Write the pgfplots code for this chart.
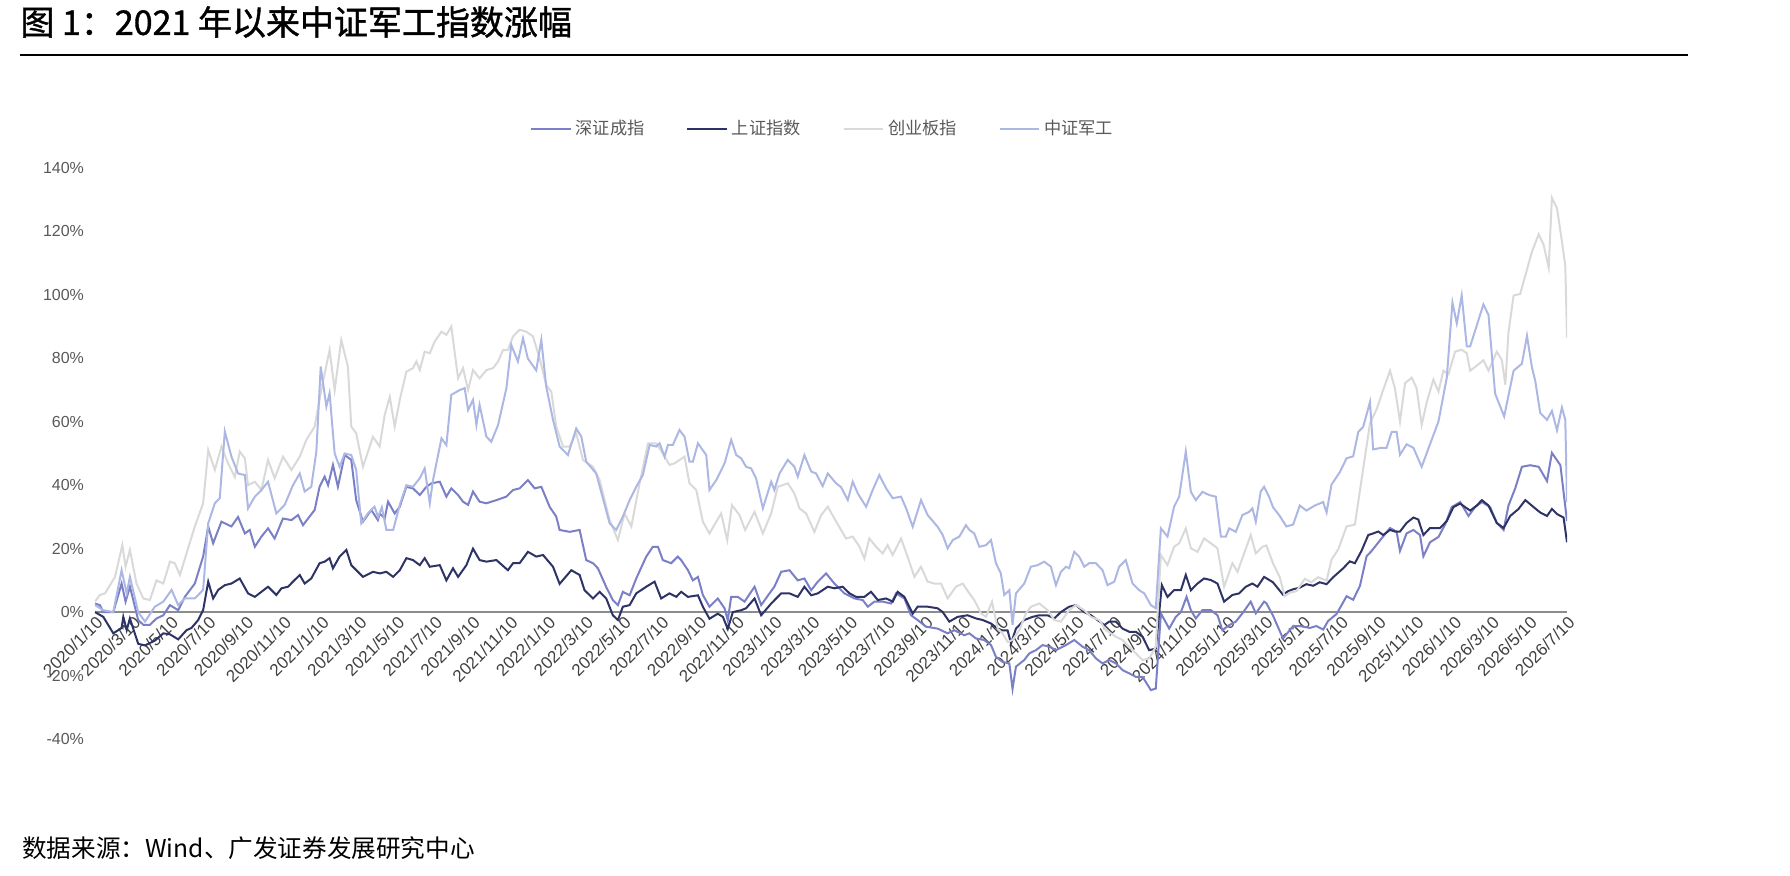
\documentclass[border=0pt]{standalone}
\usepackage{pgfplots}
\pgfplotsset{compat=1.18}
\usepackage{fontspec}
\setmainfont{Liberation Sans}
\newfontfamily\cjk{Noto Sans CJK SC}
\newfontfamily\cjkt[FakeBold=1.2]{Noto Sans CJK SC}
\definecolor{szc}{HTML}{7B80C6}
\definecolor{shc}{HTML}{2E3366}
\definecolor{cyc}{HTML}{D9D9D9}
\definecolor{jgc}{HTML}{ADB7E3}
\definecolor{lbl}{HTML}{595959}
\definecolor{xlbl}{HTML}{404040}
\begin{document}
\begin{tikzpicture}
\path (0pt,0pt) rectangle (895pt,438pt);
\node[anchor=west, inner sep=0pt, font=\cjkt\fontsize{17}{19}\selectfont] at (10pt,427pt) {图 1：2021 年以来中证军工指数涨幅};
\draw[line width=1pt] (10pt,410.5pt) -- (844pt,410.5pt);
\node[anchor=west, inner sep=0pt, font=\cjk\fontsize{12.3}{14}\selectfont] at (11pt,14pt) {数据来源：Wind、广发证券发展研究中心};
\begin{axis}[at={(47.5pt,68.5pt)}, anchor=south west,
  scale only axis, width=736pt, height=285.5pt,
  xmin=0, xmax=78, ymin=-40, ymax=140,
  axis x line=middle, axis y line=left,
  x axis line style={draw=black!45, line width=1.1pt, -},
  y axis line style={draw=none},
  xtick={0,2,...,78},
  xticklabels={2020/1/10,2020/3/10,2020/5/10,2020/7/10,2020/9/10,2020/11/10,2021/1/10,2021/3/10,2021/5/10,2021/7/10,2021/9/10,2021/11/10,2022/1/10,2022/3/10,2022/5/10,2022/7/10,2022/9/10,2022/11/10,2023/1/10,2023/3/10,2023/5/10,2023/7/10,2023/9/10,2023/11/10,2024/1/10,2024/3/10,2024/5/10,2024/7/10,2024/9/10,2024/11/10,2025/1/10,2025/3/10,2025/5/10,2025/7/10,2025/9/10,2025/11/10,2026/1/10,2026/3/10,2026/5/10,2026/7/10},
  xticklabel style={rotate=45, anchor=north east, inner sep=1pt, font=\fontsize{8.5}{9}\selectfont, text=xlbl},
  ytick={-40,-20,...,140},
  yticklabel={\pgfmathprintnumber{\tick}\%},
  yticklabel style={font=\fontsize{8}{9}\selectfont, text=lbl, xshift=-2pt},
  major tick length=0pt, tick style={draw=none},
  hide obscured x ticks=false, hide obscured y ticks=false,
  /pgf/number format/assume math mode=true,
  legend columns=4,
  legend style={at={(0.495,1.068)}, anchor=center, draw=none, fill=none,
    font=\cjk\fontsize{8.6}{10}\selectfont, text=lbl,
    /tikz/every even column/.append style={column sep=19pt},
    nodes={inner xsep=2pt}},
  legend image code/.code={\draw[#1, line width=1pt] (0pt,0pt) -- (19.7pt,0pt);},
]
\addplot[szc, line width=1pt] coordinates {
(0,2.7) (0.26,2.2) (0.44,0) (0.97,0) (1.41,9) (1.62,3.3) (1.85,8) (2.29,-2.5) (2.56,-4) (2.91,-4) (3.26,-2) (3.62,-1) (3.97,2.2) (4.41,0.6) (4.76,4.8) (5.29,9) (5.73,17.5) (6.0,27) (6.26,21.7) (6.7,28.5) (7.23,27) (7.58,30) (7.94,24.8) (8.2,25.9) (8.47,20.6) (8.82,23.8) (9.17,26.4) (9.52,23.2) (9.96,29.5) (10.41,29) (10.76,30.6) (11.02,27.4) (11.64,32.2) (11.9,39.5) (12.17,42.7) (12.35,40) (12.61,46.4) (12.87,39.5) (13.23,49.5) (13.58,48) (13.84,35.3) (14.2,28.5) (14.64,32.2) (14.99,29)
(15.09,31.1) (15.35,29.5) (15.53,34.8) (15.88,31.1) (16.15,33.2) (16.5,39.5) (16.85,39) (17.21,36.9) (17.56,39.5) (17.83,40.6) (18.27,41.1) (18.62,36.4) (18.88,39) (19.24,36.9) (19.5,34.8) (19.77,33.8) (20.03,38) (20.38,34.8) (20.74,34.3) (21.27,35.3) (21.8,36.4) (22.15,38.5) (22.5,39) (22.94,41.6) (23.3,39) (23.65,39.5) (24.09,33.2) (24.44,30.1) (24.62,25.9) (25.15,25.3) (25.68,25.9) (26.03,16.4) (26.39,15.4) (26.65,13.8) (27.09,7.9) (27.44,3.8) (27.71,2.2) (27.97,6.4) (28.33,5.3) (28.68,10.6) (29.21,17.5) (29.56,20.6) (29.83,20.6) (30.09,16.4) (30.53,15.4) (30.88,17.5)
(31.06,16.4) (31.42,13.2) (31.68,10) (31.95,11.1) (32.21,5.4) (32.56,1.7) (33.0,4.3) (33.36,1.2) (33.53,-2.6) (33.71,4.8) (34.06,4.8) (34.42,3.3) (34.95,8) (35.3,2.2) (35.74,5.9) (36.0,8) (36.36,12.7) (36.8,13.2) (37.24,10) (37.59,10.6) (37.95,6.9) (38.3,9.6) (38.74,12.2) (39.18,9) (39.71,5.9) (40.24,4.3) (40.68,3.8) (40.95,1.7) (41.3,3.3) (41.74,3.3) (42.18,2.7) (42.45,5.9) (42.89,4.3) (43.24,-1) (43.59,-2.5) (44.03,-4.6) (44.65,-5.2) (45.18,-6.7) (45.53,-5.7) (46.06,-7.3)
(46.33,-6.7) (46.68,-8.3) (47.12,-8.8) (47.48,-10.4) (47.74,-14.1) (48.09,-15.7) (48.45,-16.2) (48.62,-24.2) (48.8,-17.2) (49.24,-15.1) (49.51,-13) (49.86,-12) (50.21,-10.4) (50.57,-10.9) (50.92,-12) (51.45,-10.4) (51.89,-8.8) (52.33,-10.9) (52.68,-12) (53.04,-14.6) (53.39,-16.2) (53.74,-15.1) (54.1,-16.2) (54.45,-18.3) (54.8,-19.3) (55.15,-20.4) (55.51,-20.4) (55.95,-24.6) (56.21,-24.1) (56.48,-0.4) (56.92,-5.2) (57.27,-1.5) (57.54,0) (57.84,4.8) (58.07,0.6) (58.33,-2) (58.68,0.6) (59.13,0.6) (59.48,-1) (59.74,-5.7) (60.1,-4.1) (60.45,-3) (60.8,-0.4) (61.24,3.3) (61.51,-0.4) (61.95,3.3)
(62.07,2.8) (62.42,-1.1) (62.95,-8.3) (63.49,-4.4) (63.84,-4.4) (64.37,-5) (64.72,-4.4) (65.08,-5.5) (65.34,-2.8) (65.79,-0.6) (66.32,5) (66.67,3.9) (67.03,8.3) (67.38,17.6) (67.65,19.3) (68.09,22.6) (68.62,26.5) (68.97,25.4) (69.15,19.3) (69.5,24.8) (69.86,25.9) (70.21,24.3) (70.39,17.6) (70.74,22) (71.19,23.7) (71.54,27.6) (71.89,33.1) (72.34,34.7) (72.78,30.3) (73.13,33.1) (73.49,34.7) (73.93,33.1) (74.28,28.1) (74.64,25.9) (74.9,33.6) (75.26,39.1) (75.61,45.8) (76.05,46.3) (76.5,45.8) (76.94,41.3) (77.2,50.2) (77.65,46.3) (78,28.7)
};
\addlegendentry{深证成指}
\addplot[shc, line width=1pt] coordinates {
(0,0) (0.44,-1.5) (0.97,-6.7) (1.41,-5) (1.5,-1.5) (1.68,-5.7) (1.85,-2) (2.29,-10) (2.65,-10.5) (3.17,-9) (3.62,-6.7) (3.97,-7) (4.41,-8.6) (4.85,-5.7) (5.11,-5) (5.47,-2.5) (5.73,0.6) (6.0,9.6) (6.26,4.3) (6.53,7) (6.88,8.5) (7.23,9) (7.67,10.6) (8.11,5.9) (8.47,4.8) (8.82,6.4) (9.17,8) (9.61,5.4) (9.88,7.5) (10.23,8) (10.49,9.6) (10.85,11.7) (11.11,9) (11.46,10.6) (11.9,15.4) (12.17,15.9) (12.43,17) (12.61,13.8) (12.96,17.5) (13.32,19.6) (13.58,14.8) (14.2,11.1) (14.73,12.7)
(15.09,12.2) (15.44,12.7) (15.8,11.1) (16.15,13.2) (16.5,17) (16.85,16.4) (17.21,14.8) (17.47,17) (17.74,14.3) (18.27,14.8) (18.62,10) (18.97,13.8) (19.24,11.1) (19.68,14.8) (20.03,20) (20.38,16.4) (20.74,15.9) (21.27,16.4) (21.88,13.2) (22.15,15.4) (22.5,15.4) (22.94,19) (23.38,17.5) (23.74,18) (24.27,14.3) (24.62,8.9) (25.24,13.2) (25.68,11.7) (25.94,6.9) (26.39,4.3) (26.74,6.4) (27.09,4.3) (27.44,-1) (27.71,-2.5) (27.97,1.7) (28.33,2.2) (28.68,5.9) (29.21,8) (29.65,9.6) (30.0,4.3) (30.44,5.9) (30.8,4.8)
(31.06,6.4) (31.42,4.8) (31.95,5.3) (32.21,1.7) (32.56,-2.1) (33.0,-0.5) (33.27,-1.5) (33.53,-5.3) (33.8,0) (34.24,0.6) (34.5,1.2) (34.95,4.3) (35.3,-1) (35.83,2.7) (36.36,5.9) (36.8,5.9) (37.24,4.8) (37.59,8) (37.95,5.3) (38.3,5.9) (38.83,8) (39.18,7.5) (39.62,8) (39.98,5.9) (40.33,4.8) (40.77,4.8) (41.12,6.4) (41.48,3.8) (41.92,4.3) (42.27,3.3) (42.53,6.4) (42.89,4.8) (43.33,-0.5) (43.59,1.7) (44.12,1.7) (44.65,1.2) (44.92,0) (45.27,-3) (45.71,-1.5) (46.24,-1)
(46.68,-2) (47.04,-2.5) (47.48,-3.6) (47.83,-5.2) (48.09,-5.8) (48.36,-5.8) (48.54,-9.9) (48.8,-5.2) (49.24,-2.5) (49.68,-1.5) (50.04,-1) (50.48,-1) (50.83,-2) (51.18,0) (51.62,1.7) (51.98,2.2) (52.42,0) (52.77,-1) (53.12,-2.5) (53.48,-4.1) (53.74,-3) (54.1,-3) (54.45,-5.2) (54.8,-6.2) (55.15,-6.2) (55.51,-7.8) (55.86,-12) (56.21,-11.5) (56.53,8.5) (56.83,4.8) (57.18,6.9) (57.54,6.9) (57.8,11.7) (58.07,6.9) (58.42,9) (58.77,10.6) (59.13,10.1) (59.48,9) (59.83,3.3) (60.27,5.4) (60.63,5.9) (60.98,8) (61.33,9) (61.6,8) (61.95,11.1)
(62.42,9.4) (62.95,5.5) (63.22,6.6) (63.49,7.2) (63.84,7.7) (64.19,8.8) (64.55,8.3) (64.9,9.4) (65.26,8.8) (65.61,11) (66.14,13.8) (66.49,16) (66.76,15.4) (67.11,19.3) (67.47,24.3) (67.73,24.8) (68.0,25.4) (68.26,24.3) (68.62,25.9) (68.88,25.4) (69.15,25.4) (69.5,28.1) (69.86,29.8) (70.12,29.2) (70.39,24.3) (70.74,26.5) (71.27,26.5) (71.63,28.7) (71.98,33.1) (72.34,34.2) (72.6,33.1) (72.87,32) (73.22,33.6) (73.49,35.3) (73.84,33.6) (74.28,28.1) (74.64,26.5) (74.99,30.3) (75.43,32.5) (75.79,35.3) (76.23,33.1) (76.58,31.4) (76.94,30.3) (77.2,32.5) (77.47,30.9) (77.82,29.8) (78,22)
};
\addlegendentry{上证指数}
\addplot[cyc, line width=1pt] coordinates {
(0,3.3) (0.26,5.4) (0.53,5.9) (1.06,11.1) (1.45,21.1) (1.62,14.3) (1.85,19.6) (2.2,9) (2.56,4.3) (2.91,3.8) (3.26,10) (3.62,9) (3.97,15.9) (4.23,15.4) (4.5,11.7) (4.85,18.5) (5.29,27) (5.73,34.3) (6.0,51.1) (6.35,44.8) (6.7,52.2) (7.05,46.9) (7.41,42.6) (7.67,50.6) (7.94,48.5) (8.11,40) (8.47,41.1) (8.82,38.5) (9.17,48) (9.52,42.2) (9.96,49) (10.41,44.8) (10.85,49) (11.2,54.3) (11.64,58.5) (11.99,70) (12.43,82.6) (12.7,70) (13.05,85.8) (13.4,77.4) (13.58,58.5) (13.84,56.4) (14.2,45.8) (14.73,55.3) (15.08,52.2)
(15.35,62.1) (15.62,67.9) (15.88,58.5) (16.15,66.9) (16.5,75.8) (16.85,76.9) (17.03,79) (17.21,76.3) (17.47,82.1) (17.74,81.6) (18.0,85.3) (18.36,88.4) (18.62,87.4) (18.88,90) (19.24,73.7) (19.5,76.9) (19.77,70) (20.03,76.3) (20.38,73.7) (20.74,76.3) (21.09,76.9) (21.36,79) (21.62,82.6) (21.88,82.6) (22.15,86.9) (22.5,89) (22.86,88.4) (23.21,86.9) (23.56,80) (23.91,71.6) (24.18,69.5) (24.44,58.5) (24.8,52.2) (25.15,52.2) (25.5,56.4) (25.86,47.9) (26.39,45.8) (26.74,41.6) (27.27,29) (27.71,22.7) (28.06,31.1) (28.42,27) (28.86,40.6) (29.3,53.2) (29.74,53.2) (30.09,50) (30.44,46.4) (30.71,46.9)
(31.24,49) (31.5,40.6) (31.86,38.5) (32.21,28.5) (32.56,24.8) (32.92,28.5) (33.18,31.1) (33.5,22.7) (33.75,33.7) (34.15,30.6) (34.45,25.9) (34.95,31.6) (35.39,24.8) (35.83,31.1) (36.18,39.5) (36.71,40.6) (37.06,37.4) (37.33,32.7) (37.68,31.1) (38.12,25.3) (38.48,30.6) (38.83,33.2) (39.18,29.5) (39.53,25.9) (39.8,23.2) (40.15,23.8) (40.51,20.6) (40.77,16.9) (41.03,23.2) (41.39,20.6) (41.74,18.5) (42.0,21.1) (42.27,18) (42.71,23.2) (43.06,17.5) (43.42,11.1) (43.77,14.3) (44.12,9.6) (44.48,9) (44.83,9) (45.18,4.3) (45.62,8) (45.98,9)
(46.33,5.9) (46.59,3.8) (46.95,-0.4) (47.21,-1.5) (47.53,3.3) (47.83,-5.2) (48.09,-6.7) (48.36,-9.4) (48.62,-8.8) (48.98,-5.7) (49.33,-0.4) (49.6,1.7) (50.04,2.7) (50.48,0.6) (50.83,-2.5) (51.18,-3) (51.62,0.6) (51.98,2.2) (52.42,0.6) (52.77,-1.5) (53.21,-2.5) (53.57,-5.7) (54.1,-7.8) (54.45,-8.8) (54.8,-10.9) (55.15,-13) (55.51,-15.1) (55.86,-14.6) (56.21,-10.9) (56.48,18) (56.83,14.8) (57.18,20.6) (57.45,21.7) (57.8,26.4) (58.07,20.1) (58.42,19) (58.77,23.2) (59.13,21.7) (59.48,20.1) (59.83,8) (60.27,15.4) (60.54,12.7) (60.89,18.5) (61.24,24.3) (61.51,18.5) (61.86,20.6)
(62.07,21) (62.42,15.4) (62.78,11) (63.04,5) (63.31,6.1) (63.66,6.6) (64.11,10.5) (64.46,9.4) (64.81,11) (65.26,9.9) (65.52,16.5) (65.88,19.8) (66.32,27) (66.76,27.6) (67.2,45.2) (67.56,59.5) (67.91,63.9) (68.26,70) (68.62,76.1) (68.88,70.6) (69.15,60.1) (69.42,72.2) (69.77,73.9) (70.03,70.6) (70.3,59) (70.57,66.2) (70.92,73.3) (71.19,69.5) (71.45,76.1) (71.72,75) (72.07,82.1) (72.42,82.7) (72.69,81.6) (72.87,76.1) (73.22,77.7) (73.57,79.4) (73.84,76.1) (74.28,82.1) (74.55,79.4) (74.73,71.7) (74.9,88.2) (75.17,99.8) (75.52,100.3) (75.88,108) (76.14,113.6) (76.5,119.1) (76.76,115.8) (77.03,108.6) (77.2,130.6) (77.47,127.3) (77.73,116.9) (77.91,109.1) (78,86.5)
};
\addlegendentry{创业板指}
\addplot[jgc, line width=1pt] coordinates {
(0,2.2) (0.44,0.6) (0.97,0) (1.41,13.2) (1.68,5.9) (1.85,11.1) (2.29,0) (2.65,-3) (3.17,1.7) (3.62,3.3) (4.06,7) (4.41,2.2) (4.76,4.3) (5.29,4.3) (5.73,7) (6.0,28) (6.35,34.3) (6.61,35.9) (6.88,56.9) (7.23,49) (7.58,43.7) (7.94,43.2) (8.11,32.7) (8.47,36.4) (8.82,38.5) (9.17,41.1) (9.61,31.1) (10.05,33.8) (10.49,40) (10.85,43.7) (11.11,38) (11.46,39.5) (11.73,50.6) (11.96,77.4) (12.26,64.8) (12.43,69) (12.7,50) (12.96,45.8) (13.23,50) (13.58,49.5) (13.84,44.8) (14.11,28) (14.46,31.1) (14.81,33.2) (15.0,30) (15.2,33)
(15.44,25.9) (15.8,25.9) (16.15,33.8) (16.5,40) (16.85,39.5) (17.21,42.2) (17.47,45.3) (17.74,34.3) (17.91,41.6) (18.36,54.8) (18.62,52.6) (18.88,68.5) (19.33,70) (19.59,70.6) (19.77,63.7) (20.03,66.9) (20.21,59) (20.38,65.3) (20.74,55.3) (21.0,53.7) (21.36,59) (21.8,70.6) (22.06,84.2) (22.41,79) (22.68,86.3) (22.94,79.9) (23.38,76.2) (23.65,85.8) (23.91,71.1) (24.27,60.6) (24.62,52.2) (25.06,49.5) (25.5,57.9) (25.77,55.3) (26.03,47.4) (26.56,43.7) (27.27,28) (27.62,25.9) (27.97,30.1) (28.33,35.3) (28.68,39.5) (29.03,43.2) (29.39,52.7) (29.74,52.2) (29.92,53.2) (30.18,49) (30.36,52.7) (30.62,52.7) (30.97,57.4)
(31.24,55.3) (31.5,47.4) (31.68,47.4) (31.95,53.2) (32.39,49.5) (32.56,38.5) (32.92,41.6) (33.36,46.9) (33.71,54.3) (33.98,49.5) (34.24,48.5) (34.5,45.8) (34.77,45.3) (35.03,42.2) (35.39,32.7) (35.83,41.1) (36.0,38.5) (36.27,43.7) (36.71,48) (37.06,45.8) (37.24,42.7) (37.59,49.5) (37.95,44.3) (38.21,43.7) (38.56,39.7) (38.83,43.7) (39.27,40.6) (39.53,39.4) (39.89,35.3) (40.15,41.1) (40.42,37.4) (40.86,33.2) (41.21,38.5) (41.56,43.2) (41.92,39) (42.27,35.9) (42.71,36.4) (42.98,32.7) (43.33,26.9) (43.77,35.3) (44.12,30.6) (44.65,26.9) (44.92,24.3) (45.18,20.1) (45.45,22.7) (45.8,23.8) (46.15,27.4)
(46.33,25.9) (46.59,24.8) (46.86,20.6) (47.21,21.1) (47.48,22.7) (47.74,15.4) (48.0,12.2) (48.18,5.4) (48.45,6.9) (48.62,-4.1) (48.8,5.9) (49.24,9) (49.59,14.3) (49.95,14.8) (50.3,15.9) (50.65,14.3) (50.92,8.5) (51.18,12.7) (51.45,14.3) (51.62,13.8) (51.89,19) (52.15,17.5) (52.42,14.3) (52.68,15.4) (53.04,15.4) (53.39,13.2) (53.65,8.5) (54.01,9.6) (54.27,14.3) (54.62,16.4) (54.98,9) (55.33,6.9) (55.6,5.9) (55.95,2.2) (56.21,1.2) (56.48,26.4) (56.83,23.8) (57.18,33.2) (57.45,36.4) (57.8,50.6) (58.07,37.9) (58.33,35.3) (58.68,37.9) (59.04,36.9) (59.39,36.4) (59.66,23.8) (59.92,23.8) (60.1,26.4) (60.45,25.3) (60.8,30.6) (61.16,31.6) (61.33,32.7) (61.51,28.5) (61.77,38) (61.95,39.5) (62.21,36.4)
(62.42,33.1) (62.78,30.3) (63.13,27) (63.49,27.6) (63.84,33.6) (64.19,32) (64.64,33.6) (65.08,34.7) (65.26,31.4) (65.52,40.2) (65.96,44.1) (66.32,48.5) (66.67,49.1) (66.94,56.8) (67.2,58.4) (67.56,66.2) (67.73,51.3) (68.18,51.8) (68.44,51.8) (68.71,56.8) (68.97,56.8) (69.15,49.6) (69.5,52.9) (69.86,51.8) (70.3,45.8) (70.74,52.9) (71.19,60.1) (71.63,73.9) (71.93,97.6) (72.16,91) (72.42,99.8) (72.69,83.8) (72.87,83.8) (73.22,90.4) (73.57,97) (73.84,93.7) (74.19,68.9) (74.67,61.7) (75.17,76.1) (75.61,78.3) (75.88,87.1) (76.14,77.2) (76.32,72.8) (76.58,62.8) (76.94,60.6) (77.2,63.4) (77.47,57.3) (77.73,64.5) (77.91,60.6) (78,34.7)
};
\addlegendentry{中证军工}
\end{axis}
\end{tikzpicture}
\end{document}
